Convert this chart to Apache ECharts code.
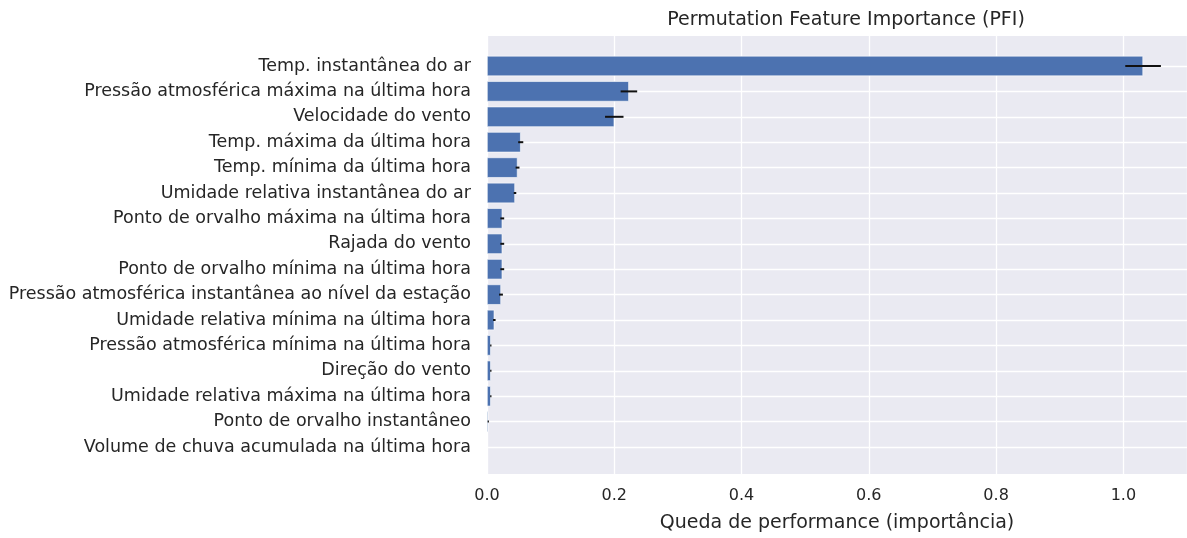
<!DOCTYPE html>
<html>
<head>
<meta charset="utf-8">
<script src="https://cdn.jsdelivr.net/npm/echarts@6/dist/echarts.min.js"></script>
<style>
    html, body { margin: 0; padding: 0; background: #fff; }
    #chart { width: 1187px; height: 538px; }
</style>
</head>
<body>
<div id="chart"></div>
<script>
// features, top to bottom
const features = [
    'Temp. instantânea do ar',
    'Pressão atmosférica máxima na última hora',
    'Velocidade do vento',
    'Temp. máxima da última hora',
    'Temp. mínima da última hora',
    'Umidade relativa instantânea do ar',
    'Ponto de orvalho máxima na última hora',
    'Rajada do vento',
    'Ponto de orvalho mínima na última hora',
    'Pressão atmosférica instantânea ao nível da estação',
    'Umidade relativa mínima na última hora',
    'Pressão atmosférica mínima na última hora',
    'Direção do vento',
    'Umidade relativa máxima na última hora',
    'Ponto de orvalho instantâneo',
    'Volume de chuva acumulada na última hora'
]
const importance = [1.031, 0.223, 0.200, 0.053, 0.048, 0.044, 0.024, 0.024, 0.024, 0.022, 0.0115, 0.006, 0.006, 0.006, 0.002, 0]
const importanceStd = [0.028, 0.013, 0.0145, 0.004, 0.003, 0.002, 0.003, 0.003, 0.003, 0.003, 0.002, 0.001, 0.001, 0.001, 0.001, 0]
const xTicks = [0, 0.2, 0.4, 0.6, 0.8, 1.0]

const fontFamily = 'DejaVu Sans'
const textColor = '#262626'

const chart = echarts.init(document.getElementById('chart'))
chart.setOption({
    animation: false,
    textStyle: { fontFamily: fontFamily },
    title: {
        text: 'Permutation Feature Importance (PFI)',
        left: 841,
        top: 6,
        textAlign: 'center',
        textStyle: { fontFamily: fontFamily, fontSize: 19, fontWeight: 'normal', color: textColor }
    },
    grid: [
        // full axes background
        { left: 487, right: 0, top: 36, bottom: 62, show: true, backgroundColor: '#eaeaf2', borderWidth: 0 },
        // bars area (bands of 25.4px)
        { left: 487, right: 0, top: 53.3, height: 406.4 }
    ],
    xAxis: [{
        gridIndex: 0,
        type: 'value',
        min: 0,
        max: 1.1,
        interval: 0.2,
        name: 'Queda de performance (importância)',
        nameLocation: 'middle',
        nameGap: 40,
        nameTextStyle: { fontFamily: fontFamily, fontSize: 19, color: textColor },
        axisLine: { show: false },
        axisTick: { show: false },
        axisLabel: {
            showMaxLabel: false,
            margin: 14,
            fontSize: 16,
            color: textColor,
            formatter: v => xTicks.indexOf(Math.round(v * 10) / 10) >= 0 ? v.toFixed(1) : ''
        },
        splitLine: { show: true, lineStyle: { color: '#ffffff', width: 1.3 } }
    }, {
        gridIndex: 1,
        type: 'value',
        min: 0,
        max: 1.1,
        show: false
    }],
    yAxis: [{
        gridIndex: 0,
        type: 'value',
        show: false
    }, {
        gridIndex: 1,
        type: 'category',
        inverse: true,
        data: features,
        axisLine: { show: false },
        axisTick: { show: false },
        axisLabel: { fontSize: 17.5, color: textColor, margin: 16 },
        splitLine: { show: true, alignWithLabel: true, lineStyle: { color: '#ffffff', width: 1.3 } }
    }],
    series: [{
        type: 'bar',
        xAxisIndex: 1,
        yAxisIndex: 1,
        data: importance,
        barWidth: '80%',
        itemStyle: { color: '#4c72b0', borderColor: '#ffffff', borderWidth: 0.6 }
    }, {
        type: 'custom',
        xAxisIndex: 1,
        yAxisIndex: 1,
        data: importance.map((v, i) => [i, v, importanceStd[i]]),
        encode: { x: 1, y: 0 },
        renderItem: (params, api) => {
            const idx = api.value(0)
            const v = api.value(1)
            const s = api.value(2)
            const a = api.coord([v - s, idx])
            const b = api.coord([v + s, idx])
            return {
                type: 'line',
                shape: { x1: a[0], y1: a[1], x2: b[0], y2: b[1] },
                style: { stroke: '#111111', lineWidth: 2 }
            }
        },
        z: 5
    }]
})
</script>
</body>
</html>
